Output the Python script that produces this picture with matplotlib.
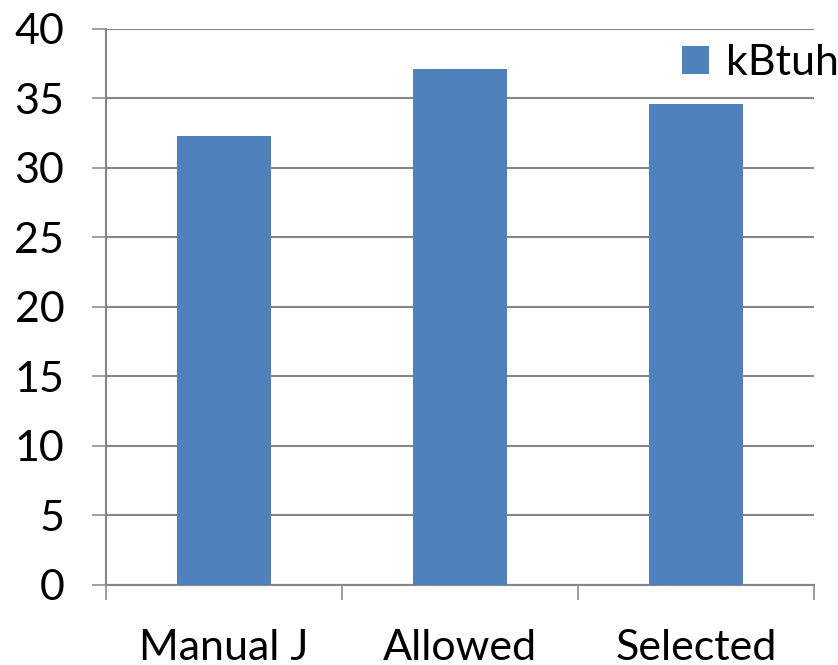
import matplotlib
matplotlib.use("Agg")
import matplotlib.pyplot as plt
from matplotlib.ticker import FixedLocator

categories = ["Manual J", "Allowed", "Selected"]
values = [32.3, 37.1, 34.6]
series_name = "kBtuh"
yticks = [0, 5, 10, 15, 20, 25, 30, 35, 40]

plt.rcParams['font.family'] = ['Lato', 'DejaVu Sans']
W, H = 838, 665
fig = plt.figure(figsize=(W/100, H/100), dpi=100)
ax = fig.add_axes([106/W, 1-585/H, (814-106)/W, (585-28.5)/H])

grid_c = "#868686"
x = range(len(categories))
ax.bar(x, values, width=0.40, color="#4F81BD", label=series_name, zorder=3)

ax.set_xlim(-0.5, len(categories)-0.5)
ax.set_ylim(0, 40)
ax.set_yticks(yticks)
ax.yaxis.grid(True, color=grid_c, linewidth=1.5, zorder=0)
ax.set_axisbelow(True)

ax.set_xticks(list(x))
ax.set_xticklabels(categories)
ax.xaxis.set_minor_locator(FixedLocator([i-0.5 for i in range(len(categories)+1)]))
ax.tick_params(axis='x', which='major', length=0, pad=32, labelsize=31)
ax.tick_params(axis='x', which='minor', length=11, width=1.1, color=grid_c, direction='out')
ax.tick_params(axis='y', length=10, width=1.1, color=grid_c, pad=20, labelsize=31)

for s in ['top', 'right']:
    ax.spines[s].set_visible(False)
for s in ['left', 'bottom']:
    ax.spines[s].set_color(grid_c)
    ax.spines[s].set_linewidth(1.5)

ax.legend(loc='upper left', bbox_to_anchor=(682/W, 1-44/H), bbox_transform=fig.transFigure,
          frameon=False, fontsize=31, handlelength=0.62, handleheight=0.62,
          handletextpad=0.4, borderaxespad=0, borderpad=0)

fig.savefig("out.png", dpi=100)
